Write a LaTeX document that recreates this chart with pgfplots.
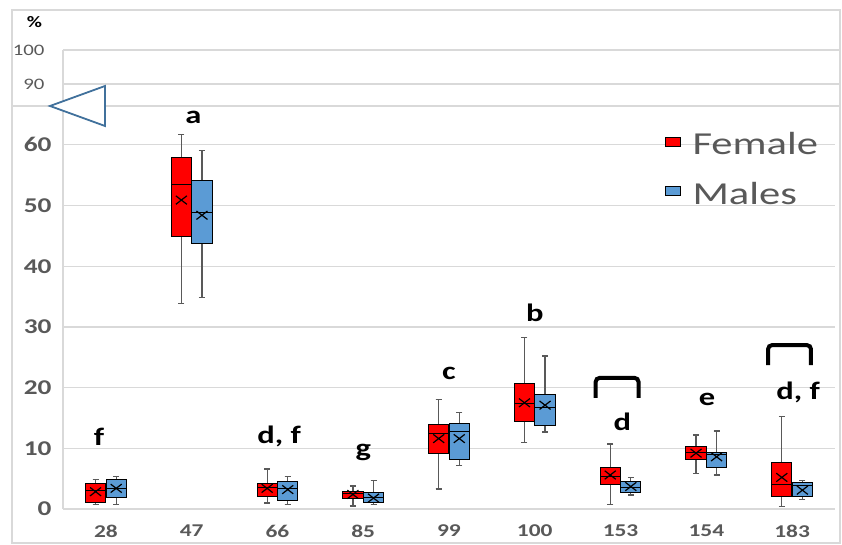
\documentclass[border=0pt]{standalone}
\usepackage{pgfplots}
\pgfplotsset{compat=1.18}
\usepgfplotslibrary{statistics}
\usepackage{fontspec}
\setmainfont{Carlito}
\definecolor{fcol}{HTML}{FF0000}
\definecolor{mcol}{HTML}{5B9BD5}
\definecolor{tgray}{HTML}{595959}
\definecolor{lgray}{HTML}{D9D9D9}
\definecolor{tri}{HTML}{41719C}
% pos, lower whisker, lower quartile, median, upper quartile, upper whisker, fill
\newcommand{\bx}[7]{%
\addplot[boxplot prepared={draw position=#1, lower whisker=#2, lower quartile=#3,
  median=#4, upper quartile=#5, upper whisker=#6, box extend=0.235, whisker extend=0.07},
  fill=#7, draw=black, line width=0.5pt,
  boxplot/every whisker/.style={black!65, line width=0.6pt},
  boxplot/every median/.style={black, line width=0.5pt}] coordinates {};}
\begin{document}
\begin{tikzpicture}[x=0.5pt,y=0.5pt]
\path[use as bounding box] (0,0) rectangle (842,545);
\draw[lgray, line width=0.6pt] (12,535) rectangle (840,2);
% upper panel
\begin{axis}[at={(31.5pt,219.5pt)}, anchor=south west, scale only axis,
  width=388pt, height=28pt, xmin=-0.5, xmax=8.5, ymin=83.5, ymax=100,
  axis x line=none, axis y line*=left, axis line style={lgray, line width=0.6pt},
  ytick={90,100}, ymajorgrids, grid style={lgray, line width=0.6pt},
  major tick length=0pt, xtick=\empty,
  /pgf/number format/assume math mode=true,
  yticklabel style={font=\fontsize{8}{9}\selectfont, text=tgray, anchor=east, inner sep=0pt, xshift=-9pt, xscale=1.3}]
\addplot[draw=none] coordinates {(0,90)};
\end{axis}
% lower panel
\begin{axis}[at={(31.5pt,18pt)}, anchor=south west, scale only axis,
  width=386pt, height=201.5pt, xmin=-0.5, xmax=8.5, ymin=0, ymax=66.4,
  axis x line*=bottom, axis y line*=left, axis line style={lgray, line width=0.6pt},
  ytick={0,10,...,60}, ymajorgrids, grid style={lgray, line width=0.6pt},
  major tick length=0pt, clip=false, boxplot/draw direction=y,
  xtick={0,...,8}, xticklabels={28,47,66,85,99,100,153,154,183},
  /pgf/number format/assume math mode=true,
  yticklabel style={font=\bfseries\fontsize{10.5}{12}\selectfont, text=tgray, anchor=east, inner sep=0pt, xshift=-5.5pt, xscale=1.3},
  xticklabel style={font=\bfseries\fontsize{9}{10}\selectfont, text=tgray, anchor=center, inner sep=0pt, yshift=-11pt, xscale=1.3}]
% Female
\bx{-0.12}{0.7}{1.15}{3.0}{4.2}{4.9}{fcol}
\bx{0.88}{33.8}{44.9}{53.5}{57.9}{61.7}{fcol}
\bx{1.88}{1.0}{2.1}{3.6}{4.2}{6.6}{fcol}
\bx{2.88}{0.5}{1.75}{2.5}{2.85}{3.8}{fcol}
\bx{3.88}{3.3}{9.2}{12.5}{14.0}{18.1}{fcol}
\bx{4.88}{11.0}{14.4}{17.3}{20.6}{28.3}{fcol}
\bx{5.88}{0.8}{4.0}{5.3}{6.9}{10.7}{fcol}
\bx{6.88}{5.9}{8.2}{9.3}{10.3}{12.2}{fcol}
\bx{7.88}{0.4}{2.1}{4.1}{7.6}{15.2}{fcol}
% Males
\bx{0.12}{0.7}{1.9}{3.3}{4.8}{5.3}{mcol}
\bx{1.12}{34.8}{43.7}{48.9}{54.2}{59.0}{mcol}
\bx{2.12}{0.7}{1.4}{3.3}{4.45}{5.3}{mcol}
\bx{3.12}{0.8}{1.1}{1.9}{2.75}{4.7}{mcol}
\bx{4.12}{7.2}{8.2}{12.8}{14.05}{15.9}{mcol}
\bx{5.12}{12.7}{13.7}{16.75}{18.8}{25.2}{mcol}
\bx{6.12}{2.3}{2.75}{3.6}{4.45}{5.2}{mcol}
\bx{7.12}{5.6}{6.8}{9.0}{9.3}{12.85}{mcol}
\bx{8.12}{1.5}{2.1}{3.8}{4.3}{4.7}{mcol}
% means
\addplot[only marks, mark=x, mark size=3pt, black, mark options={xscale=1.3, line width=0.6pt}]
 coordinates {(-0.12,2.85) (0.88,50.9) (1.88,3.4) (2.88,2.4) (3.88,11.6) (4.88,17.5) (5.88,5.6) (6.88,9.2) (7.88,5.2)
 (0.12,3.4) (1.12,48.4) (2.12,3.2) (3.12,1.8) (4.12,11.6) (5.12,17.1) (6.12,3.7) (7.12,8.6) (8.12,3.1)};
% letters
\begin{scope}[every node/.style={font=\bfseries\fontsize{12.5}{14}\selectfont, xscale=1.3}]
\node at (axis cs:-0.08,11.9) {f};
\node at (axis cs:1.02,64.5) {a};
\node at (axis cs:2.02,11.9) {d, f};
\node at (axis cs:3.0,9.3) {g};
\node at (axis cs:4.0,22.4) {c};
\node at (axis cs:5.0,32.3) {b};
\node at (axis cs:6.02,14.3) {d};
\node at (axis cs:7.01,18.1) {e};
\node at (axis cs:8.07,19.2) {d, f};
\end{scope}
\draw[line width=2pt, rounded corners=2pt] (axis cs:5.71,18.3) -- (axis cs:5.71,21.6) -- (axis cs:6.21,21.6) -- (axis cs:6.21,18.3);
\draw[line width=2pt, rounded corners=2pt] (axis cs:7.72,23.7) -- (axis cs:7.72,27.0) -- (axis cs:8.22,27.0) -- (axis cs:8.22,23.7);
\end{axis}
% separator and triangle
\draw[lgray, line width=0.6pt] (12,439) -- (840,439);
\draw[tri, line width=0.9pt, fill=white] (50,439) -- (105,459) -- (105,419) -- cycle;
\node[font=\bfseries\fontsize{8}{9}\selectfont, xscale=1.3] at (34.5,522.5) {\%};
% legend
\draw[black, line width=0.5pt, fill=fcol] (665,407) rectangle (680,398);
\draw[black, line width=0.5pt, fill=mcol] (665,358) rectangle (680,349);
\node[anchor=base west, inner sep=0pt, text=tgray, font=\fontsize{16}{18}\selectfont, xscale=1.33] at (692,390) {Female};
\node[anchor=base west, inner sep=0pt, text=tgray, font=\fontsize{16}{18}\selectfont, xscale=1.33] at (692,340) {Males};
\end{tikzpicture}
\end{document}
